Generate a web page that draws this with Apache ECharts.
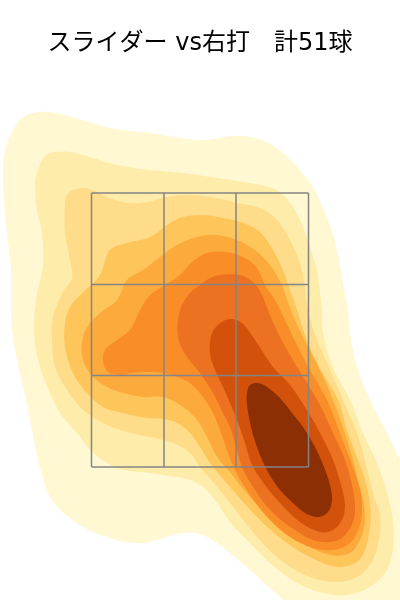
<!DOCTYPE html>
<html><head><meta charset="utf-8">
<script src="https://cdn.jsdelivr.net/npm/echarts@6/dist/echarts.min.js"></script>
<style>html,body{margin:0;padding:0;background:#fff}#c{width:400px;height:600px}</style>
</head><body><div id="c"></div>
<script>
// Title
const titleText = 'スライダー vs右打　計51球';
// Strike zone (plate position in mm)
const zoneX = [-217, -72, 72, 217];
const zoneY = [466, 649, 831, 1014];
// KDE contour levels (outer boundary of each density band), [x mm, height mm]
const level1 = [[-390,1100],[-374,1140],[-356,1164],[-334,1174],[-300,1176],[-270,1170],[-234,1160],[-180,1144],[-100,1134],[0,1120],[66,1128],[100,1126],[134,1116],[166,1094],[200,1060],[226,1026],[254,966],[274,900],[286,834],[296,780],[300,734],[314,666],[340,600],[374,534],[400,480],[420,440],[420,190],[176,190],[166,200],[140,224],[100,260],[60,294],[34,314],[10,328],[-14,334],[-34,334],[-54,330],[-80,322],[-114,314],[-150,316],[-180,324],[-210,334],[-234,346],[-260,364],[-280,380],[-300,406],[-310,430],[-324,480],[-336,540],[-350,610],[-366,680],[-376,740],[-378,800],[-378,860],[-386,934],[-394,1034]];
const level2 = [[-330,1034],[-326,1054],[-314,1084],[-300,1094],[-260,1096],[-220,1086],[-166,1070],[-100,1060],[-34,1054],[34,1044],[100,1034],[130,1028],[160,1016],[186,986],[206,946],[220,906],[234,860],[240,814],[244,780],[246,734],[266,666],[300,600],[326,534],[354,474],[374,414],[386,360],[386,306],[374,260],[340,226],[294,210],[246,214],[194,234],[140,274],[100,314],[60,356],[30,400],[6,426],[-20,440],[-60,448],[-100,454],[-154,460],[-186,474],[-220,500],[-246,534],[-274,566],[-294,600],[-320,666],[-332,734],[-328,800],[-314,870],[-316,934],[-326,980]];
const level3 = [[-270,994],[-266,1010],[-254,1020],[-226,1024],[-186,1006],[-146,994],[-106,996],[-66,1006],[-20,1010],[34,1004],[74,994],[120,984],[154,960],[180,920],[200,874],[210,826],[216,780],[230,730],[256,670],[286,600],[314,534],[330,480],[346,414],[360,366],[356,310],[340,270],[314,246],[274,236],[220,246],[166,276],[114,326],[60,394],[26,436],[0,466],[-20,494],[-54,514],[-100,526],[-146,536],[-194,554],[-234,580],[-266,620],[-290,666],[-296,720],[-294,766],[-274,816],[-256,844],[-260,880],[-270,934]];
const level4 = [[-224,824],[-200,850],[-180,900],[-146,914],[-100,926],[-60,954],[-34,966],[6,970],[46,964],[86,954],[120,936],[146,900],[166,860],[180,820],[194,780],[210,730],[236,670],[276,600],[296,534],[316,480],[330,440],[340,390],[340,346],[330,300],[314,276],[274,266],[220,286],[166,320],[114,366],[60,426],[20,474],[0,506],[-26,540],[-60,560],[-106,564],[-154,574],[-194,586],[-226,614],[-254,654],[-270,706],[-270,754],[-260,786],[-240,810]];
const level5 = [[-166,800],[-146,840],[-114,860],[-80,886],[-46,910],[-6,926],[34,930],[74,920],[110,900],[140,870],[164,830],[174,800],[190,760],[214,710],[240,660],[266,600],[290,534],[306,480],[316,440],[326,400],[330,360],[320,320],[300,294],[260,290],[206,314],[154,354],[100,406],[60,456],[34,486],[14,526],[-6,560],[-34,586],[-74,606],[-114,606],[-154,614],[-186,626],[-214,646],[-234,680],[-236,714],[-226,746],[-200,774]];
const level6 = [[-120,780],[-100,810],[-70,830],[-40,850],[-16,876],[14,894],[54,896],[90,884],[114,864],[130,830],[150,800],[170,760],[194,710],[220,660],[254,600],[280,534],[306,466],[320,420],[324,390],[320,350],[300,314],[266,300],[226,304],[180,326],[140,360],[100,410],[70,460],[54,500],[40,540],[26,574],[6,606],[-20,634],[-46,646],[-74,654],[-100,656],[-134,654],[-160,650],[-184,656],[-194,676],[-190,700],[-166,720],[-140,740]];
const level7 = [[20,844],[40,850],[80,850],[106,836],[124,810],[140,770],[160,726],[186,680],[214,634],[240,590],[266,534],[290,480],[304,430],[310,390],[306,356],[286,326],[260,316],[226,320],[190,340],[144,376],[110,420],[84,466],[70,514],[60,546],[46,574],[26,614],[0,654],[-26,686],[-44,726],[-40,780],[-20,814],[0,830]];
const level8 = [[44,756],[64,762],[86,752],[114,714],[146,666],[180,630],[210,586],[240,534],[266,480],[282,430],[290,390],[284,360],[266,340],[240,336],[200,356],[160,394],[130,430],[104,470],[90,514],[74,560],[60,594],[46,626],[30,660],[20,694],[24,734]];
const level9 = [[100,630],[116,634],[134,626],[160,604],[184,574],[206,546],[230,506],[248,466],[260,430],[264,400],[256,376],[236,366],[210,374],[186,394],[160,420],[136,456],[116,500],[102,546],[94,590],[94,614]];

const levels = [level1, level2, level3, level4, level5, level6, level7, level8, level9];
const levelColors = ['#FFF8D3','#FEEDAA','#FEDC89','#FEC55B','#FDAA3D','#F98E29','#EC7120','#D2520B','#8C2F05'];

const zoneLines = [];
zoneX.forEach(x => zoneLines.push([x, zoneY[0], x, zoneY[3]]));
zoneY.forEach(y => zoneLines.push([zoneX[0], y, zoneX[3], y]));

const chart = echarts.init(document.getElementById('c'), null, {renderer: 'canvas'});
chart.setOption({
  animation: false,
  backgroundColor: '#ffffff',
  title: {
    text: titleText, left: 'center', top: 27,
    textStyle: {fontFamily: '"DejaVu Sans", "Noto Sans CJK JP", sans-serif', fontSize: 24, fontWeight: 'normal', color: '#000'}
  },
  grid: {left: 0, right: 0, top: 0, bottom: 0, containLabel: false},
  xAxis: {type: 'value', min: -400, max: 400, show: false},
  yAxis: {type: 'value', min: 200, max: 1400, show: false},
  series: [
    {
      type: 'custom', coordinateSystem: 'cartesian2d', clip: true, silent: true, z: 1,
      data: levels.map((_, i) => [i]),
      encode: {x: -1, y: -1},
      renderItem: function (params, api) {
        const i = api.value(0);
        const pts = levels[i].map(p => api.coord(p));
        return {type: 'polygon', shape: {points: pts, smooth: 0.35}, style: {fill: levelColors[i]}};
      }
    },
    {
      type: 'custom', coordinateSystem: 'cartesian2d', clip: false, silent: true, z: 2,
      data: zoneLines,
      encode: {x: [0, 2], y: [1, 3]},
      renderItem: function (params, api) {
        const a = api.coord([api.value(0), api.value(1)]);
        const b = api.coord([api.value(2), api.value(3)]);
        return {type: 'line', shape: {x1: a[0], y1: a[1], x2: b[0], y2: b[1]}, style: {stroke: '#858585', lineWidth: 1.5}};
      }
    }
  ]
});
</script></body></html>
